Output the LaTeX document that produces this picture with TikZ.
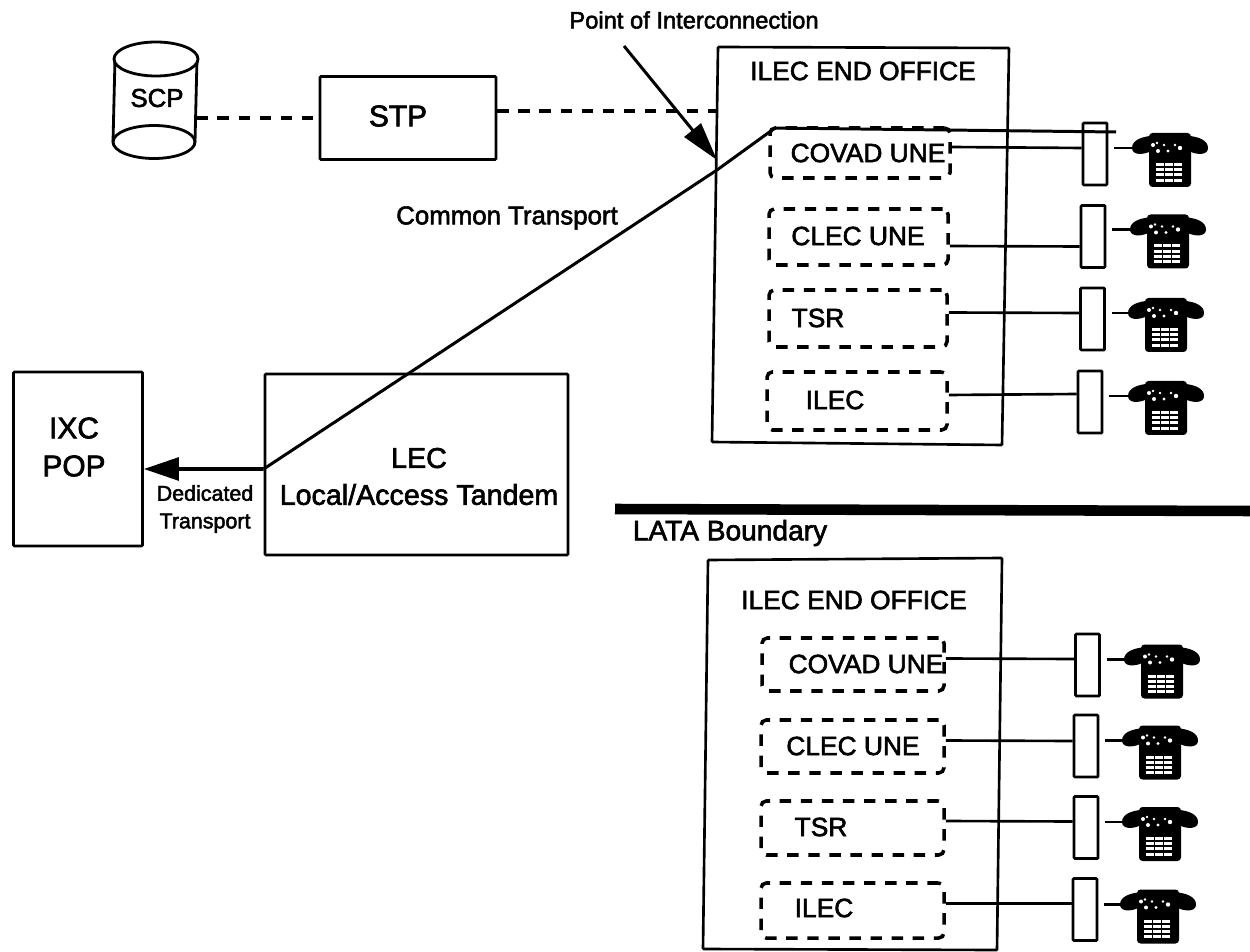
\documentclass[tikz,border=0pt]{standalone}
\usepackage{fontspec}
\setmainfont[RawFeature={embolden=2.2}]{Liberation Sans}
\usetikzlibrary{arrows.meta}
\def\px{0.02cm}
\newcommand{\fs}[2]{\fontsize{#1}{#2}\selectfont}
\tikzset{
  box/.style={draw=black,line width=1.5pt,inner sep=0pt,rounded corners=0.5pt},
  dbox/.style={draw=black,line width=2pt,dash pattern=on 6.5pt off 5.5pt,rounded corners=3pt,inner sep=0pt},
  jackbox/.style={draw=black,line width=1.5pt,fill=white,inner sep=0pt,minimum width=24*\px,minimum height=62*\px,rounded corners=0.5pt},
  wire/.style={draw=black,line width=1.5pt},
  sig/.style={draw=black,line width=2pt,dash pattern=on 6.5pt off 5.5pt},
  trunk/.style={draw=black,line width=1.7pt},
  lbl/.style={inner sep=0pt,align=center,text=black},
  phoneicon/.pic={
    \fill[black,rounded corners=2pt] (-21,-27) rectangle (21,27);
    \fill[black] (-38,-12) .. controls (-38,-20) and (-28,-23) .. (-20,-24) -- (20,-24)
      .. controls (28,-23) and (38,-20) .. (38,-12) .. controls (38,-5) and (28,-5) .. (21,-8)
      -- (-21,-8) .. controls (-28,-5) and (-38,-5) .. (-38,-12) -- cycle;
    \fill[white] (-17,-15) circle (2) (-12,-9) circle (2) (-6,-15) circle (1.3)
      (-2,-9) circle (1.6) (5,-15) circle (1.4) (10,-12) circle (2.2) (-13,-17) circle (1.3);
    \foreach \r in {0,1,2,3}{\foreach \c in {0,1,2}{
      \fill[white] (-14+\c*9,3+\r*5.2) rectangle ++(7.5,3);}}
    \coordinate (-w) at (-30,-12);
  }
}
\begin{document}
\begin{tikzpicture}[x=\px,y=-\px]
\useasboundingbox[fill=white] (0,0) rectangle (1250,952);

% offices (scan skew kept)
\draw[box] (718,47) -- (1009,48) -- (1002,445) -- (712,442) -- cycle;
\draw[box] (708,560) -- (1002,558) -- (997,950) -- (703,949) -- cycle;
\node[lbl] (o1t) at (863,71) {\fs{15}{18}ILEC END OFFICE};
\node[lbl] (o2t) at (854,600) {\fs{15}{18}ILEC END OFFICE};

% SCP
\node[minimum width=82*\px,minimum height=116*\px,inner sep=0pt] (scp) at (155,100) {};
\draw[line width=1.6pt,fill=white] (115,59) -- (113,142) arc[start angle=180,end angle=360,x radius=41,y radius=-16.5] -- (197,59);
\draw[line width=1.6pt] (113,142) arc[start angle=180,end angle=0,x radius=41,y radius=-16.5];
\draw[line width=1.6pt,fill=white] (156,59) ellipse[x radius=42,y radius=17];
\node[lbl] (scpt) at (157,98) {\fs{14.7}{18}SCP};

% main boxes
\node[box,minimum width=176*\px,minimum height=83*\px] (stp) at (408,118) {};
\node[lbl] (stpt) at (398,116) {\fs{17}{20}STP};
\node[box,minimum width=129*\px,minimum height=174*\px] (ixc) at (78,459) {};
\node[lbl,font=\fs{17}{21.6}] (ixct) at (74,447) {IXC\\POP};
\node[box,minimum width=303*\px,minimum height=181*\px] (lec) at (416.5,464.5) {};
\node[lbl,font=\fs{16.3}{21}] (lect) at (419,476.5) {LEC\\Local/Access Tandem};

% dashed boxes, upper office
\node[dbox,minimum width=180*\px,minimum height=50*\px] (a1) at (860,153) {};
\node[dbox,minimum width=179*\px,minimum height=56*\px] (a2) at (858.5,237) {};
\node[dbox,minimum width=178*\px,minimum height=57*\px] (a3) at (858,318.5) {};
\node[dbox,minimum width=180*\px,minimum height=58*\px] (a4) at (857,401) {};
\node[lbl] (a1t) at (868,153) {\fs{15}{18}COVAD UNE};
\node[lbl] (a2t) at (858,236) {\fs{15}{18}CLEC UNE};
\node[lbl] (a3t) at (818,318) {\fs{15}{18}TSR};
\node[lbl] (a4t) at (835,400) {\fs{15}{18}ILEC};

% dashed boxes, lower office
\node[dbox,minimum width=182*\px,minimum height=53*\px] (b1) at (853,664.5) {};
\node[dbox,minimum width=183*\px,minimum height=53*\px] (b2) at (852.5,746.5) {};
\node[dbox,minimum width=183*\px,minimum height=54*\px] (b3) at (852.5,828) {};
\node[dbox,minimum width=183*\px,minimum height=55*\px] (b4) at (852.5,910.5) {};
\node[lbl] (b1t) at (866,664) {\fs{15}{18}COVAD UNE};
\node[lbl] (b2t) at (853,746) {\fs{15}{18}CLEC UNE};
\node[lbl] (b3t) at (821,827) {\fs{15}{18}TSR};
\node[lbl] (b4t) at (824,908) {\fs{15}{18}ILEC};

% jacks
\node[jackbox] (j1) at (1095,154) {};
\node[jackbox] (j2) at (1093,236.5) {};
\node[jackbox] (j3) at (1092.5,319) {};
\node[jackbox] (j4) at (1090,402) {};
\node[jackbox] (k1) at (1087.5,665) {};
\node[jackbox] (k2) at (1086,746) {};
\node[jackbox] (k3) at (1086,827.5) {};
\node[jackbox] (k4) at (1085,909.5) {};

% phones
\pic (p1) at (1170,160) {phoneicon};
\pic (p2) at (1168,241.5) {phoneicon};
\pic (p3) at (1166,325) {phoneicon};
\pic (p4) at (1166,408) {phoneicon};
\pic (q1) at (1162,671.5) {phoneicon};
\pic (q2) at (1160,752.5) {phoneicon};
\pic (q3) at (1160,834) {phoneicon};
\pic (q4) at (1158,916.5) {phoneicon};

% lines dashed box to jack
\draw[wire] ([yshift=6*\px]a1.east) -- ([yshift=6*\px]j1.west);
\draw[wire] ([yshift=-9*\px]a2.east) -- ([yshift=-10*\px]j2.west);
\draw[wire] ([yshift=6*\px]a3.east) -- ([yshift=6*\px]j3.west);
\draw[wire] ([yshift=6*\px]a4.east) -- ([yshift=8*\px]j4.west);
\draw[wire] ([yshift=6*\px]b1.east) -- ([yshift=6*\px]k1.west);
\draw[wire] ([yshift=6*\px]b2.east) -- ([yshift=5*\px]k2.west);
\draw[wire] ([yshift=7*\px]b3.east) -- ([yshift=6*\px]k3.west);
\draw[wire] ([yshift=7*\px]b4.east) -- ([yshift=6*\px]k4.west);

% jack to phone
\foreach \j/\p in {j1/p1,j2/p2,j3/p3,j4/p4,k1/q1,k2/q2,k3/q3,k4/q4}{
  \draw[wire,shorten <=6*\px] (\j.east |- \p-w) -- (\p-w);
}

% signalling
\draw[sig] (scp.east |- stp.west) -- (stp.west);
\coordinate (sigend) at (717,111);
\draw[sig] ([yshift=7*\px]stp.east) -- (sigend);

% trunk
\coordinate (poi) at (717,170);
\coordinate (poitip) at (717,160);
\coordinate (bend) at (775,128);
\coordinate (trunkend) at (1116,132);
\draw[trunk,line join=round] ([yshift=-4.5*\px]lec.west) -- (poi) -- (bend) -- (trunkend);
\draw[line width=2pt,-{Triangle[length=20pt,width=13pt]}] ([yshift=-4.5*\px]lec.west) -- ([yshift=-10*\px]ixc.east);

% point of interconnection
\node[lbl] (poit) at (694,20) {\fs{13.5}{16}Point of Interconnection};
\coordinate (poistart) at (624,46);
\draw[line width=1.7pt,-{Triangle[length=22pt,width=12pt]}] (poistart) -- (poitip);

% text labels
\node[lbl] (ct) at (507,218) {\fs{14.7}{18}Common Transport};
\node[lbl,font=\fs{12.2}{15.7}] (dt) at (205,509) {Dedicated\\Transport};
\node[lbl] (lata) at (730,533) {\fs{16}{19}LATA Boundary};

% LATA line
\coordinate (latal) at (615,509);
\coordinate (latar) at (1250,511);
\draw[line width=6pt,black] (latal) -- (latar);
\end{tikzpicture}
\end{document}
